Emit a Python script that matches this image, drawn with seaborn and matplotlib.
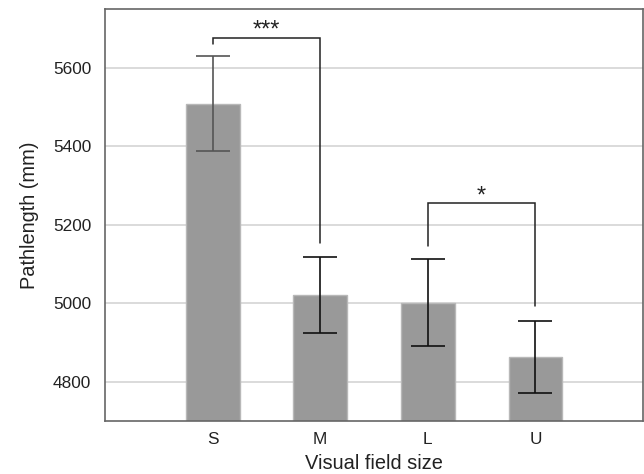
import matplotlib
matplotlib.use("Agg")
import matplotlib.pyplot as plt
import seaborn as sns
import pandas as pd

categories = ["S", "M", "L", "U"]
means = [5509, 5021, 5001, 4863]
errors = [121, 96, 111, 92]

# significance brackets: (left idx, right idx, top y, left-leg bottom, right-leg bottom, label)
brackets = [
    (0, 1, 5677, 5660, 5153, "***"),
    (2, 3, 5256, 5146, 4994, "*"),
]

sns.set_theme(style="white")
plt.rcParams['font.family'] = ['Liberation Sans', 'DejaVu Sans']

df = pd.DataFrame({"size": categories, "len": means})

fig = plt.figure(figsize=(6.44, 4.74), dpi=100)
ax = fig.add_axes([105/644, 1-421/474, (643-105)/644, (421-9)/474])

ax.yaxis.grid(True, color="#d4d4d4", linewidth=1.2, zorder=0)
ax.set_axisbelow(True)

sns.barplot(data=df, x="size", y="len", color="#999999", width=0.5,
            errorbar=None, ax=ax, saturation=1, edgecolor="#b8b8b8",
            linewidth=1, zorder=2)

x = list(range(len(categories)))
ecols = ["#555555", "#111111", "#111111", "#111111"]
for i in x:
    ax.errorbar(i, means[i], yerr=errors[i], fmt="none", ecolor=ecols[i],
                elinewidth=1.2, capsize=12, capthick=1.2, zorder=3)

for l, r, top, lb, rb, lab in brackets:
    ax.plot([l, l, r, r], [lb, top, top, rb], color="#222222", lw=1.1,
            zorder=4, solid_joinstyle="miter")
    ax.text((l + r) / 2, top + 2, lab, ha="center", va="baseline",
            fontsize=17, color="#222222")

ax.set_xlim(-1, 4)
ax.set_ylim(4700, 5750)
ax.set_yticks([4800, 5000, 5200, 5400, 5600])
ax.set_xlabel("Visual field size", fontsize=14.4, color="#222222", labelpad=5)
ax.set_ylabel("Pathlength (mm)", fontsize=14.4, color="#222222", labelpad=10)
ax.tick_params(axis="y", length=6, color="#d4d4d4", width=1.2,
               labelsize=12.4, labelcolor="#222222", pad=4)
ax.tick_params(axis="x", length=0, labelsize=12.4, labelcolor="#222222", pad=8)

for s in ax.spines.values():
    s.set_color("#666666")
    s.set_linewidth(1.2)
    s.set_visible(True)

fig.savefig("out.png", dpi=100)
